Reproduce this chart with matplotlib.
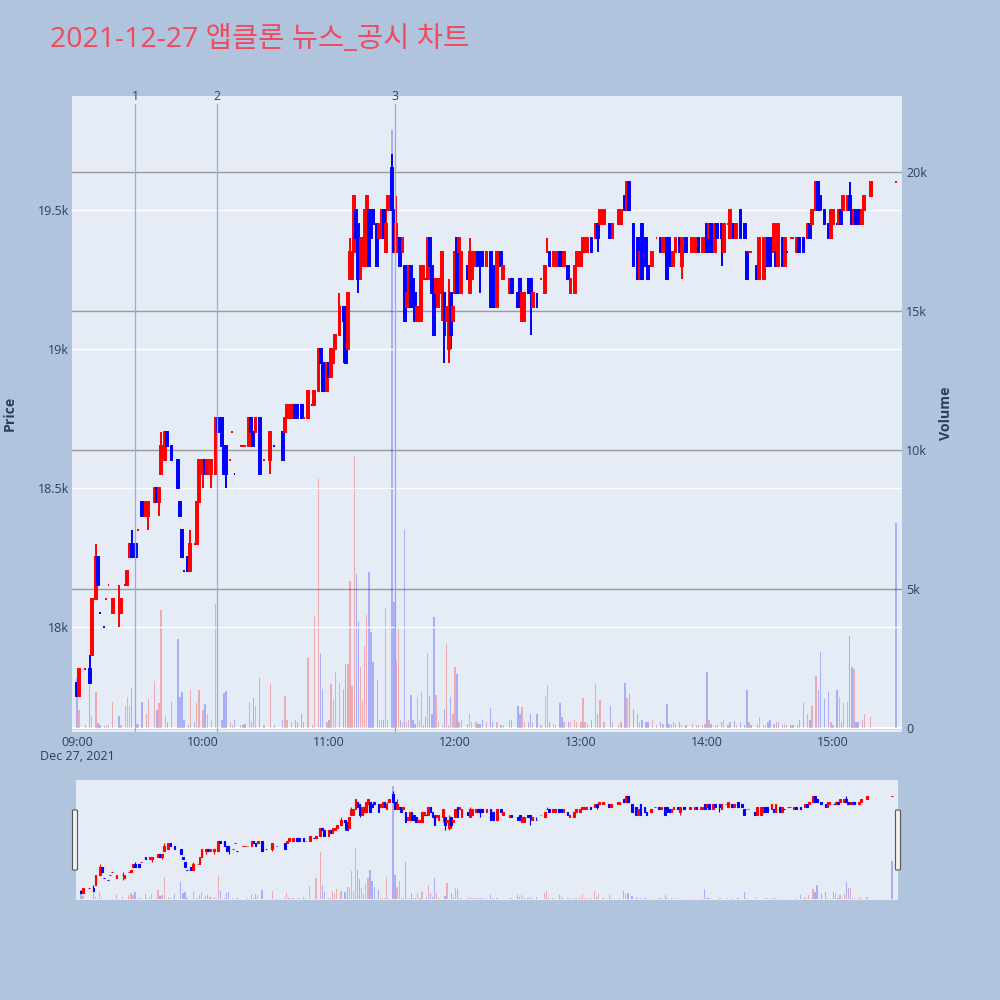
import matplotlib
matplotlib.use("Agg")
import matplotlib.pyplot as plt
import numpy as np
import pandas as pd
from matplotlib.patches import FancyBboxPatch

plt.rcParams['font.family'] = ['Open Sans', 'Noto Sans CJK KR', 'DejaVu Sans']

title = "2021-12-27 앱클론 뉴스_공시 차트"

times = [
    "09:00", "09:01", "09:04", "09:06", "09:07", "09:09", "09:10", "09:11", "09:13", "09:14", "09:15", "09:17", "09:20",
    "09:21", "09:23", "09:24", "09:25", "09:26", "09:28", "09:29", "09:31", "09:33", "09:34", "09:37", "09:38", "09:39",
    "09:40", "09:42", "09:43", "09:45", "09:48", "09:49", "09:50", "09:51", "09:53", "09:54", "09:56", "09:57", "09:58",
    "10:00", "10:01", "10:02", "10:04", "10:06", "10:07", "10:09", "10:10", "10:11", "10:13", "10:14", "10:15", "10:18",
    "10:19", "10:20", "10:22", "10:23", "10:24", "10:25", "10:27", "10:29", "10:32", "10:34", "10:38", "10:39", "10:40",
    "10:42", "10:44", "10:45", "10:47", "10:48", "10:50", "10:52", "10:53", "10:55", "10:56", "10:57", "10:59",
    "11:00", "11:01", "11:02", "11:03", "11:05", "11:07", "11:08", "11:09", "11:10", "11:11", "11:12", "11:13", "11:14",
    "11:15", "11:16", "11:17", "11:18", "11:19", "11:20", "11:21", "11:23", "11:24", "11:25", "11:26", "11:27", "11:28",
    "11:30", "11:31", "11:32", "11:33", "11:34", "11:35", "11:36", "11:37", "11:38", "11:39", "11:40", "11:41", "11:42",
    "11:43", "11:44", "11:45", "11:46", "11:47", "11:48", "11:49", "11:50", "11:51", "11:52", "11:54", "11:55", "11:56",
    "11:57", "11:58", "11:59",
    "12:00", "12:01", "12:02", "12:03", "12:06", "12:07", "12:08", "12:10", "12:11", "12:12", "12:13", "12:15", "12:17",
    "12:18", "12:20", "12:22", "12:23", "12:26", "12:27", "12:30", "12:31", "12:32", "12:33", "12:35", "12:36", "12:37",
    "12:39", "12:41", "12:43", "12:44", "12:45", "12:47", "12:48", "12:50", "12:51", "12:52", "12:54", "12:55", "12:57",
    "12:58",
    "13:00", "13:01", "13:02", "13:03", "13:05", "13:07", "13:08", "13:09", "13:11", "13:14", "13:15", "13:18", "13:19",
    "13:21", "13:22", "13:23", "13:25", "13:27", "13:28", "13:29", "13:31", "13:32", "13:34", "13:36", "13:38", "13:39",
    "13:41", "13:42", "13:43", "13:44", "13:45", "13:47", "13:48", "13:50", "13:53", "13:55", "13:56", "13:58", "13:59",
    "14:00", "14:01", "14:02", "14:04", "14:05", "14:07", "14:08", "14:10", "14:11", "14:13", "14:14", "14:16", "14:18",
    "14:19", "14:20", "14:21", "14:24", "14:25", "14:27", "14:28", "14:29", "14:30", "14:32", "14:33", "14:34", "14:36",
    "14:37", "14:38", "14:40", "14:41", "14:43", "14:44", "14:46", "14:48", "14:49", "14:50", "14:52", "14:53", "14:54",
    "14:56", "14:58", "14:59",
    "15:00", "15:02", "15:03", "15:04", "15:05", "15:07", "15:08", "15:09", "15:10", "15:11", "15:12", "15:14", "15:15",
    "15:18", "15:30",
]

opens = [
    17800, 17750, 17850, 17850, 17900, 18100, 18250, 18050, 18000, 18100, 18150, 18050, 18100, 18050, 18150, 18150,
    18250, 18300, 18300, 18350, 18450, 18400, 18400, 18450, 18500, 18450, 18550, 18600, 18700, 18650, 18600, 18450,
    18350, 18200, 18250, 18200, 18300, 18300, 18450,
    18550, 18600, 18550, 18550, 18550, 18750, 18750, 18650, 18650, 18600, 18700, 18550, 18650, 18650, 18650, 18650,
    18750, 18700, 18700, 18750, 18600, 18600, 18650, 18700, 18700, 18750, 18750, 18800, 18800, 18800, 18750, 18750,
    18800, 18800, 18850, 19000, 18950, 18850,
    18950, 18900, 18950, 19000, 19050, 19150, 19100, 19000, 19250, 19250, 19350, 19500, 19450, 19250, 19300, 19300,
    19450, 19500, 19450, 19500, 19450, 19400, 19400, 19500, 19350, 19500, 19650, 19500, 19350, 19350, 19400, 19350,
    19300, 19150, 19150, 19300, 19250, 19200, 19100, 19100, 19100, 19250, 19250, 19250, 19400, 19300, 19250, 19200,
    19150, 19200, 19200, 19100, 19000, 19200, 19100,
    19200, 19400, 19350, 19200, 19300, 19200, 19250, 19300, 19350, 19350, 19350, 19300, 19350, 19300, 19150, 19350,
    19250, 19200, 19250, 19200, 19250, 19100, 19100, 19250, 19250, 19150, 19150, 19250, 19200, 19350, 19350, 19300,
    19300, 19350, 19350, 19300, 19300, 19200, 19200, 19300,
    19300, 19350, 19350, 19350, 19400, 19400, 19450, 19450, 19450, 19450, 19400, 19450, 19450, 19550, 19500, 19600,
    19450, 19400, 19250, 19450, 19400, 19300, 19300, 19400, 19400, 19350, 19400, 19400, 19350, 19300, 19350, 19400,
    19300, 19400, 19350, 19350, 19400, 19350, 19350,
    19450, 19400, 19450, 19350, 19450, 19450, 19350, 19450, 19400, 19450, 19400, 19500, 19450, 19350, 19350, 19350,
    19300, 19250, 19250, 19300, 19400, 19400, 19350, 19350, 19300, 19400, 19300, 19350, 19400, 19400, 19350, 19400,
    19400, 19400, 19450, 19450, 19500, 19600, 19550, 19500, 19450, 19400,
    19450, 19450, 19450, 19500, 19500, 19500, 19550, 19500, 19450, 19500, 19500, 19450, 19500, 19550, 19600,
]

highs = [
    17800, 17850, 17850, 17900, 18100, 18300, 18250, 18050, 18000, 18100, 18150, 18100, 18150, 18100, 18150, 18200,
    18300, 18350, 18300, 18350, 18450, 18450, 18450, 18500, 18500, 18500, 18700, 18700, 18700, 18650, 18600, 18450,
    18350, 18200, 18250, 18350, 18300, 18450, 18600,
    18600, 18600, 18600, 18600, 18750, 18750, 18750, 18650, 18650, 18600, 18700, 18550, 18650, 18650, 18650, 18750,
    18750, 18700, 18750, 18750, 18600, 18700, 18650, 18700, 18750, 18800, 18800, 18800, 18800, 18800, 18750, 18850,
    18800, 18850, 19000, 19000, 18950, 18950,
    18950, 19000, 19000, 19050, 19200, 19150, 19100, 19200, 19400, 19350, 19550, 19500, 19450, 19400, 19400, 19500,
    19550, 19500, 19450, 19500, 19450, 19450, 19500, 19500, 19500, 19550, 19700, 19500, 19550, 19400, 19400, 19400,
    19300, 19200, 19300, 19300, 19250, 19200, 19150, 19150, 19300, 19300, 19250, 19400, 19400, 19300, 19250, 19250,
    19250, 19350, 19200, 19150, 19250, 19200, 19150,
    19350, 19400, 19400, 19350, 19300, 19400, 19350, 19350, 19350, 19350, 19350, 19350, 19350, 19300, 19350, 19350,
    19300, 19250, 19250, 19200, 19250, 19200, 19200, 19250, 19250, 19200, 19200, 19250, 19300, 19400, 19350, 19350,
    19350, 19350, 19350, 19350, 19300, 19250, 19300, 19350,
    19350, 19400, 19400, 19400, 19400, 19450, 19450, 19500, 19500, 19450, 19450, 19500, 19500, 19550, 19600, 19600,
    19450, 19400, 19350, 19450, 19400, 19300, 19350, 19400, 19400, 19400, 19400, 19400, 19350, 19350, 19400, 19400,
    19400, 19400, 19400, 19400, 19400, 19400, 19400,
    19450, 19450, 19450, 19450, 19450, 19450, 19450, 19450, 19500, 19450, 19450, 19500, 19450, 19350, 19350, 19350,
    19300, 19400, 19400, 19400, 19400, 19400, 19450, 19350, 19450, 19400, 19400, 19350, 19400, 19400, 19400, 19400,
    19400, 19450, 19450, 19500, 19600, 19600, 19550, 19500, 19450, 19500,
    19500, 19450, 19500, 19500, 19550, 19550, 19600, 19500, 19500, 19500, 19500, 19500, 19550, 19600, 19600,
]

lows = [
    17750, 17750, 17850, 17800, 17900, 18100, 18150, 18050, 18000, 18100, 18150, 18050, 18000, 18050, 18150, 18150,
    18250, 18250, 18250, 18350, 18400, 18400, 18350, 18450, 18450, 18400, 18550, 18600, 18650, 18600, 18500, 18400,
    18250, 18200, 18200, 18200, 18300, 18300, 18450,
    18500, 18550, 18550, 18500, 18550, 18700, 18650, 18550, 18500, 18600, 18700, 18550, 18650, 18650, 18650, 18650,
    18700, 18650, 18700, 18550, 18600, 18550, 18650, 18600, 18700, 18750, 18750, 18750, 18750, 18750, 18750, 18750,
    18800, 18800, 18850, 18950, 18850, 18850,
    18900, 18900, 18950, 19000, 19050, 18950, 18950, 19000, 19250, 19250, 19350, 19400, 19200, 19250, 19300, 19300,
    19450, 19300, 19400, 19450, 19300, 19400, 19400, 19400, 19350, 19500, 19500, 19350, 19350, 19350, 19300, 19350,
    19100, 19150, 19150, 19150, 19150, 19100, 19100, 19100, 19100, 19250, 19250, 19250, 19300, 19200, 19050, 19200,
    19150, 19100, 18950, 19100, 18950, 19000, 19100,
    19200, 19200, 19350, 19200, 19250, 19200, 19250, 19300, 19300, 19200, 19300, 19300, 19150, 19150, 19150, 19300,
    19250, 19200, 19200, 19150, 19150, 19100, 19100, 19200, 19050, 19150, 19150, 19250, 19200, 19350, 19300, 19300,
    19300, 19300, 19300, 19300, 19250, 19200, 19200, 19300,
    19300, 19350, 19350, 19350, 19350, 19400, 19350, 19450, 19450, 19400, 19400, 19450, 19450, 19500, 19500, 19500,
    19300, 19250, 19250, 19250, 19300, 19250, 19300, 19400, 19350, 19350, 19250, 19300, 19300, 19300, 19350, 19350,
    19250, 19350, 19350, 19350, 19350, 19350, 19350,
    19350, 19400, 19350, 19350, 19400, 19300, 19350, 19450, 19400, 19400, 19400, 19400, 19400, 19250, 19350, 19350,
    19250, 19250, 19250, 19300, 19300, 19300, 19350, 19300, 19300, 19300, 19300, 19350, 19400, 19400, 19350, 19350,
    19350, 19400, 19400, 19450, 19500, 19500, 19500, 19450, 19400, 19400,
    19450, 19450, 19450, 19450, 19500, 19500, 19500, 19450, 19450, 19450, 19450, 19450, 19500, 19550, 19600,
]

closes = [
    17750, 17850, 17850, 17800, 18100, 18250, 18150, 18050, 18000, 18100, 18150, 18100, 18100, 18100, 18150, 18200,
    18300, 18250, 18250, 18350, 18400, 18450, 18450, 18500, 18450, 18500, 18650, 18700, 18650, 18600, 18500, 18400,
    18250, 18200, 18200, 18300, 18300, 18450, 18600,
    18600, 18550, 18600, 18600, 18750, 18700, 18650, 18550, 18550, 18600, 18700, 18550, 18650, 18650, 18650, 18750,
    18700, 18650, 18750, 18550, 18600, 18700, 18650, 18600, 18750, 18800, 18800, 18750, 18750, 18750, 18750, 18850,
    18800, 18850, 19000, 18950, 18850, 18950,
    18900, 19000, 19000, 19050, 19150, 19100, 18950, 19200, 19350, 19350, 19550, 19400, 19250, 19400, 19400, 19500,
    19550, 19300, 19400, 19450, 19300, 19450, 19500, 19400, 19450, 19550, 19500, 19350, 19450, 19400, 19300, 19400,
    19100, 19200, 19300, 19150, 19150, 19100, 19150, 19150, 19300, 19300, 19250, 19400, 19300, 19200, 19050, 19250,
    19250, 19350, 19050, 19150, 19150, 19050, 19150,
    19350, 19200, 19400, 19350, 19250, 19350, 19350, 19350, 19300, 19300, 19300, 19350, 19150, 19150, 19350, 19300,
    19300, 19250, 19200, 19150, 19150, 19200, 19200, 19200, 19200, 19200, 19150, 19250, 19300, 19350, 19300, 19350,
    19350, 19300, 19300, 19350, 19250, 19250, 19300, 19350,
    19350, 19400, 19400, 19400, 19350, 19450, 19400, 19500, 19500, 19400, 19450, 19500, 19500, 19500, 19600, 19500,
    19300, 19250, 19350, 19250, 19300, 19250, 19350, 19400, 19350, 19400, 19250, 19300, 19300, 19350, 19400, 19350,
    19400, 19350, 19400, 19400, 19350, 19400, 19400,
    19350, 19450, 19350, 19450, 19400, 19400, 19450, 19450, 19500, 19400, 19450, 19400, 19400, 19250, 19350, 19350,
    19250, 19400, 19400, 19400, 19300, 19300, 19450, 19300, 19450, 19300, 19400, 19350, 19400, 19400, 19400, 19350,
    19350, 19450, 19400, 19500, 19600, 19500, 19500, 19450, 19400, 19500,
    19500, 19450, 19500, 19450, 19550, 19550, 19500, 19450, 19500, 19450, 19450, 19500, 19550, 19600, 19600,
]

volumes = [
    1800, 650, 100, 1550, 430, 1300, 180, 100, 80, 100, 100, 940, 430, 100, 790, 1120, 790, 1440, 150, 150, 940, 500,
    1050, 1690, 650, 900, 4250, 430, 200, 940, 3200, 1120, 1300, 290, 100, 1370, 200, 900, 1370,
    650, 870, 500, 300, 4460, 1480, 300, 1260, 1330, 200, 100, 300, 100, 100, 150, 940, 200, 1080, 790, 1800, 100,
    1580, 100, 300, 1150, 300, 200, 300, 200, 500, 200, 2520, 100, 4030, 8960, 2700, 1400, 200,
    300, 1580, 1000, 2000, 1620, 1400, 2300, 2300, 5300, 1500, 9800, 5540, 3850, 2200, 1020, 2950, 4070, 5620, 3460,
    2380, 1730, 300, 300, 300, 4320, 300, 21500, 4540, 2400, 3560, 300, 200, 7130, 200, 300, 1190, 300, 150, 1120,
    300, 1300, 100, 400, 2700, 1150, 500, 4000, 1190, 200, 100, 700, 3020, 100, 1120, 500,
    2200, 1940, 200, 300, 150, 500, 200, 200, 150, 150, 300, 200, 720, 200, 200, 100, 100, 300, 300, 790, 500, 760,
    200, 200, 500, 200, 500, 100, 1150, 1550, 200, 150, 100, 900, 400, 200, 200, 200, 300, 200,
    200, 1080, 200, 150, 300, 1580, 500, 1010, 200, 800, 200, 100, 200, 1620, 1080, 1220, 700, 500, 200, 300, 200,
    200, 300, 100, 200, 150, 860, 150, 100, 200, 150, 200, 100, 100, 150, 100, 100, 100, 150,
    2000, 300, 150, 100, 100, 200, 300, 100, 200, 250, 100, 200, 100, 1370, 200, 100, 100, 400, 100, 100, 200, 300,
    150, 200, 200, 100, 150, 100, 100, 100, 100, 300, 900, 500, 300, 800, 1870, 1370, 2740, 1050, 1300, 200,
    100, 1370, 1120, 200, 900, 950, 3300, 2200, 2120, 200, 200, 300, 500, 400, 7380,
]

news_times = ["09:27:36", "10:06:42", "11:31:24"]
news_labels = ["1", "2", "3"]

x_tick_labels = ["09:00", "10:00", "11:00", "12:00", "13:00", "14:00", "15:00"]
price_ticks = [18000, 18500, 19000, 19500]
price_tick_labels = ["18k", "18.5k", "19k", "19.5k"]
vol_ticks = [0, 5000, 10000, 15000, 20000]
vol_tick_labels = ["0", "5k", "10k", "15k", "20k"]

n = len(times)
for arr in (opens, highs, lows, closes, volumes):
    assert len(arr) == n, (len(arr), n)

t = pd.to_datetime(times, format="%H:%M")
x = np.asarray((t.hour - 9) * 60 + t.minute, dtype=float)
o = np.array(opens, float)
h = np.array(highs, float)
l = np.array(lows, float)
c = np.array(closes, float)
v = np.array(volumes, float)
prev_c = np.concatenate([[c[0]], c[:-1]])

RED, BLUE = "#FF0000", "#0000FF"
candle_col = np.where(c > o, RED, np.where(c < o, BLUE, np.where(c >= prev_c, RED, BLUE)))
vol_up = (c > o) | ((c == o) & (c > prev_c))
vol_col = [(1, 0, 0, 0.28) if u else (0, 0, 1, 0.26) for u in vol_up]

nt = pd.to_datetime(news_times, format="%H:%M:%S")
news_x = np.asarray((nt.hour - 9) * 60 + nt.minute + nt.second / 60.0, dtype=float)
xt = pd.to_datetime(x_tick_labels, format="%H:%M")
x_ticks = np.asarray((xt.hour - 9) * 60 + xt.minute, dtype=float)

XLIM = (-2.4, 392.9)
PLIM = (17622, 19910)
VLIM = (-144, 22734)
TXT = "#2a3f5f"
TICK_FS = 9.0

fig = plt.figure(figsize=(10, 10), dpi=100, facecolor="#B0C4DE")

def draw(axv, axp, lw, body_w, vol_w):
    axv.bar(x, v, width=vol_w, color=vol_col, linewidth=0, zorder=2)
    axp.vlines(x, l, h, colors=candle_col, linewidth=lw, zorder=3)
    axp.bar(x, np.abs(c - o), bottom=np.minimum(o, c), width=body_w, color=candle_col,
            edgecolor=candle_col, linewidth=lw, zorder=4)
    axv.set_xlim(*XLIM)
    axv.set_ylim(*VLIM)
    axp.set_ylim(*PLIM)
    for a in (axv, axp):
        for s in a.spines.values():
            s.set_visible(False)

# main chart
axv = fig.add_axes([0.072, 0.268, 0.830, 0.636])
axv.set_facecolor("#E5ECF6")
axp = axv.twinx()
draw(axv, axp, lw=1.4, body_w=0.9, vol_w=0.65)

axv.yaxis.tick_right()
axp.yaxis.tick_left()
axv.set_yticks(vol_ticks)
axv.set_yticklabels(vol_tick_labels)
axp.set_yticks(price_ticks)
axp.set_yticklabels(price_tick_labels)
axv.set_xticks(x_ticks)
axv.set_xticklabels(x_tick_labels)
axv.tick_params(axis="y", length=0, pad=3, labelsize=TICK_FS, labelcolor=TXT,
                right=True, left=False, labelright=True, labelleft=False)
axp.tick_params(axis="y", length=0, pad=2, labelsize=TICK_FS, labelcolor=TXT,
                left=True, right=False, labelleft=True, labelright=False)
axv.tick_params(axis="x", length=0, pad=3, labelsize=TICK_FS, labelcolor=TXT)
axv.set_axisbelow(True)
axv.grid(axis="y", color="#9a9a9a", linewidth=1.0)
axv.grid(axis="x", visible=False)
axv.axhline(0, color="white", linewidth=1.5, zorder=1)
axp.grid(axis="y", color="white", linewidth=1.0, zorder=0)
axp.set_axisbelow(True)

for nx, lab in zip(news_x, news_labels):
    axp.axvline(nx, ymin=0, ymax=0.988, color="#97A9EE", linewidth=0.9, zorder=5)
    axp.text(nx, PLIM[1], lab, ha="center", va="center", fontsize=TICK_FS, color="#444444",
             transform=axp.transData, clip_on=False)

fig.text(0.077, 1 - 0.757, "Dec 27, 2021", ha="center", va="center", fontsize=TICK_FS, color=TXT)
fig.text(0.010, 1 - 0.413, "Price", rotation=90, ha="center", va="center", fontsize=10.2,
         fontweight="bold", color=TXT)
fig.text(0.946, 1 - 0.413, "Volume", rotation=90, ha="center", va="center", fontsize=10.2,
         fontweight="bold", color=TXT)
fig.text(0.050, 1 - 0.040, title, ha="left", va="center", fontsize=20.5, color="#EF4A5E",
         family=["Open Sans", "Noto Sans CJK KR"])

# range slider
asv = fig.add_axes([0.076, 0.100, 0.822, 0.120])
asv.set_facecolor("#E5ECF6")
asp = asv.twinx()
draw(asv, asp, lw=0.8, body_w=0.8, vol_w=0.6)
for a in (asv, asp):
    a.set_xticks([])
    a.set_yticks([])

for hx in (0.0725, 0.8955):
    fig.patches.append(FancyBboxPatch((hx, 1 - 0.870), 0.005, 0.060,
                                      boxstyle="round,pad=0,rounding_size=0.001",
                                      transform=fig.transFigure, facecolor="#F0F0F0",
                                      edgecolor="#555555", linewidth=0.8, zorder=10))

fig.savefig("out.png", dpi=100, facecolor=fig.get_facecolor())
